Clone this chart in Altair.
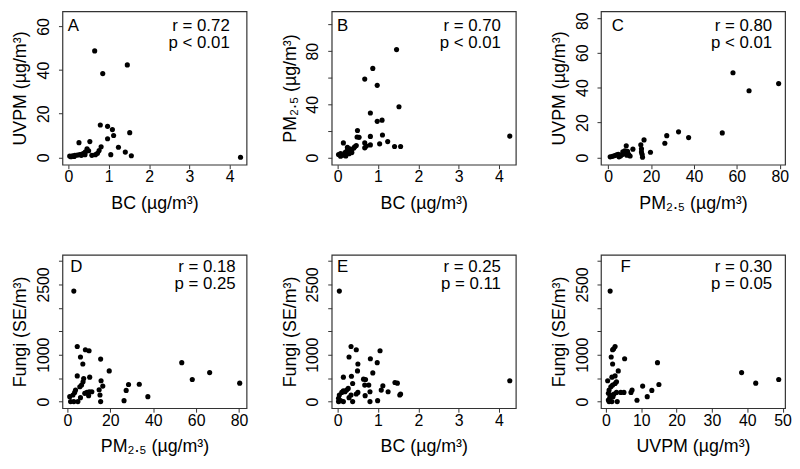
import altair as alt
import pandas as pd

# ---------------- data ----------------
# Panel A: BC vs UVPM
A_bc = [0.65, 1.46, 0.85, 0.79, 0.97, 1.09, 1.52, 1.12, 0.97, 0.26, 0.53, 0.81, 1.24, 1.41,
        1.05, 1.56, 4.27, 0.46, 0.50, 0.42, 0.76, 0.67, 0.72, 0.58,
        0.03, 0.10, 0.16, 0.22, 0.28, 0.34, 0.38, 0.06, 0.14, 0.32, 0.41]
A_uvpm = [48.8, 42.4, 38.4, 14.8, 14.2, 12.7, 11.3, 10.0, 8.5, 6.7, 7.2, 4.8, 4.6, 2.4,
          1.2, 0.7, 0.0, 3.9, 3.0, 2.5, 3.1, 1.2, 1.8, 0.9,
          0.6, 0.7, 0.9, 1.0, 1.2, 1.5, 1.8, 0.3, 0.4, 0.9, 1.2]

# Panel B: BC vs PM2.5
B_bc = [1.46, 0.87, 0.67, 0.98, 1.52, 0.81, 1.10, 0.98, 0.49, 1.11, 0.81, 0.53, 0.48, 1.24,
        0.14, 0.67, 1.04, 0.81, 0.71, 1.41, 1.56, 0.67, 4.27, 0.46, 0.42,
        0.02, 0.07, 0.12, 0.18, 0.22, 0.26, 0.30, 0.34, 0.24, 0.40, 0.20, 0.28, 0.07, 0.35]
B_pm = [81.2, 67.0, 59.0, 54.3, 38.2, 33.5, 28.1, 27.2, 20.3, 16.9, 15.9, 15.2, 15.4, 12.0,
        11.0, 11.0, 10.3, 9.5, 8.6, 8.3, 8.3, 7.3, 16.1, 9.0, 8.1,
        2.2, 2.9, 1.7, 3.7, 4.6, 5.6, 6.6, 5.4, 7.6, 7.1, 1.2, 2.9, 1.0, 3.7]

# Panel C: PM2.5 vs UVPM
C_pm = [58.2, 65.7, 79.5, 53.2, 32.8, 27.3, 37.5, 26.4, 16.7, 15.2, 15.5, 19.7, 11.5, 8.4,
        15.5, 15.8, 16.0,
        0.9, 2.0, 3.0, 3.9, 4.7, 5.7, 6.5, 7.2, 8.0, 8.7, 9.5, 10.2, 7.7, 9.0, 5.0, 6.8]
C_uvpm = [48.5, 38.2, 42.3, 14.1, 14.7, 12.5, 11.4, 8.2, 10.1, 7.3, 5.0, 3.0, 4.8, 6.7,
          3.2, 1.9, 0.2,
          0.4, 0.7, 1.1, 1.5, 1.9, 0.9, 1.7, 2.2, 2.8, 1.3, 1.9, 0.9, 3.9, 3.5, 0.4, 3.2]

# Panel D: PM2.5 vs Fungi
D_pm = [3.0, 4.6, 8.4, 10.1, 6.1, 7.2, 15.5, 19.5, 53.3, 58.2, 66.3, 80.3, 4.6, 10.4,
        15.7, 16.5, 28.5, 33.5, 27.4, 37.5, 26.4, 15.5, 14.8, 15.2,
        7.6, 7.3, 6.6, 5.8, 3.8, 3.4, 2.6, 1.1, 1.5, 3.0, 4.9, 8.1, 9.1, 10.2, 11.4, 9.9, 6.1]
D_fungi = [2359, 1176, 1106, 1085, 951, 803, 908, 655, 831, 472, 620, 394, 549, 521,
           444, 331, 366, 370, 239, 106, 21, 0, 254, 141,
           493, 423, 352, 317, 246, 197, 141, 106, 0, 0, 0, 176, 197, 211, 211, 127, 85]

# Panel E: BC vs Fungi
E_bc = [0.04, 0.33, 0.46, 1.05, 0.28, 0.81, 0.50, 0.98, 0.49, 0.87, 0.14, 0.34, 0.37, 0.64,
        0.69, 0.77, 0.67, 1.42, 1.48, 4.27, 1.12, 1.08, 1.25, 1.54, 1.56, 0.80, 0.68, 0.99,
        0.80, 0.50, 0.46, 0.26, 0.22, 0.18, 0.14, 0.10, 0.04, 0.02, 0.07, 0.14, 0.37, 0.28,
        0.33, 0.02]
E_fungi = [2359, 1176, 1106, 1085, 951, 915, 803, 831, 655, 613, 521, 542, 387, 479,
           472, 352, 352, 408, 394, 444, 338, 246, 211, 141, 162, 211, 127, 21,
           0, 197, 162, 282, 246, 211, 232, 197, 141, 70, 21, 0, 0, 85,
           141, 0]

# Panel F: UVPM vs Fungi
F_uvpm = [1.2, 2.6, 2.2, 1.9, 1.5, 5.3, 1.9, 14.6, 38.4, 42.4, 48.9, 3.5, 2.6, 1.7,
          0.5, 2.6, 3.0, 10.4, 15.0, 13.0, 11.7, 8.8, 3.2, 7.4, 7.1, 5.1, 4.2, 3.0, 2.3,
          0.9, 0.7, 1.4, 1.1, 0.7, 0.9, 1.7, 2.0, 1.4, 1.9]
F_fungi = [2359, 1176, 1127, 1106, 951, 915, 803, 831, 620, 394, 472, 655, 549, 521,
           444, 387, 423, 331, 366, 239, 106, 28, 0, 246, 197, 197, 197, 197, 162,
           246, 176, 141, 85, 35, 0, 0, 106, 317, 352]

# annotations
letters = ["A", "B", "C", "D", "E", "F"]
r_texts = ["r = 0.72", "r = 0.70", "r = 0.80", "r = 0.18", "r = 0.25", "r = 0.30"]
p_texts = ["p < 0.01", "p < 0.01", "p < 0.01", "p = 0.25", "p = 0.11", "p = 0.05"]

BC_T = "BC (µg/m³)"
PM_T = "PM₂.₅ (µg/m³)"
UV_T = "UVPM (µg/m³)"
FU_T = "Fungi (SE/m³)"

W, H = 186, 155
FONT = "Liberation Sans"


def panel(xs, ys, xdom, ydom, xticks, yticks, yshown, xtitle, ytitle, idx,
          letter_dx, r_dx, text_y, top_shift=None):
    df = pd.DataFrame({"x": xs, "y": ys})
    label_expr = "indexof(%s, datum.value) >= 0 ? datum.label : ''" % str(yshown)
    yaxis_kw = dict(values=yticks, labelExpr=label_expr, labelAngle=-90,
                    format="d", labelAlign="center", labelBaseline="bottom")
    if top_shift is not None:
        yaxis_kw["labelOffset"] = {"condition": {"test": "datum.value == %d" % top_shift[0],
                                                 "value": top_shift[1]}, "value": 0}
    pts = alt.Chart(df).mark_circle(size=27, opacity=1, color="black").encode(
        x=alt.X("x:Q", title=xtitle,
                scale=alt.Scale(domain=xdom, nice=False, zero=False),
                axis=alt.Axis(values=xticks, format="d")),
        y=alt.Y("y:Q", title=ytitle,
                scale=alt.Scale(domain=ydom, nice=False, zero=False),
                axis=alt.Axis(**yaxis_kw)),
    )
    t = pd.DataFrame({"l": [letters[idx]], "r": [r_texts[idx]], "p": [p_texts[idx]]})
    lt = alt.Chart(t).mark_text(align="center", baseline="middle", fontSize=17,
                                font=FONT, color="black").encode(
        x=alt.value(letter_dx), y=alt.value(text_y), text="l:N")
    rt = alt.Chart(t).mark_text(align="right", baseline="middle", fontSize=17,
                                font=FONT, color="black").encode(
        x=alt.value(W - r_dx), y=alt.value(text_y), text="r:N")
    pt = alt.Chart(t).mark_text(align="right", baseline="middle", fontSize=17,
                                font=FONT, color="black").encode(
        x=alt.value(W - r_dx), y=alt.value(text_y + 17.5), text="p:N")
    return alt.layer(pts, lt, rt, pt).properties(width=W, height=H)


fticks = [0, 500, 1000, 1500, 2000, 2500, 3000]
fdom = [-141, 3133]

pA = panel(A_bc, A_uvpm, [-0.15, 4.42], [-3.4, 67], [0, 1, 2, 3, 4], [0, 20, 40, 60],
           [0, 20, 40, 60], BC_T, UV_T, 0, 11, 17, 14.5)
pB = panel(B_bc, B_pm, [-0.15, 4.42], [-5.4, 110], [0, 1, 2, 3, 4], [0, 20, 40, 60, 80, 100],
           [0, 40, 80], BC_T, PM_T, 1, 11, 15, 14.5)
pC = panel(C_pm, C_uvpm, [-3.4, 82.5], [-4.1, 83.7], [0, 20, 40, 60, 80], [0, 20, 40, 60, 80],
           [0, 20, 40, 60, 80], PM_T, UV_T, 2, 17, 13, 14.5, top_shift=(80, 3))
pD = panel(D_pm, D_fungi, [-2.3, 83.5], fdom, [0, 20, 40, 60, 80], fticks,
           [0, 1000, 2500], PM_T, FU_T, 3, 14, 11, 12)
pE = panel(E_bc, E_fungi, [-0.15, 4.42], fdom, [0, 1, 2, 3, 4], fticks,
           [0, 1000, 2500], BC_T, FU_T, 4, 11, 15, 12)
pF = panel(F_uvpm, F_fungi, [-1.4, 50.7], fdom, [0, 10, 20, 30, 40, 50], fticks,
           [0, 1000, 2500], UV_T, FU_T, 5, 25, 13, 12)

chart = alt.concat(pA, pB, pC, pD, pE, pF, columns=3,
                   spacing={"row": 91, "column": 86}, bounds="flush").properties(
    padding={"left": 3, "top": 0, "right": 0, "bottom": 0},
    background="white",
).configure_view(
    stroke="#333333", strokeWidth=1.2
).configure_axis(
    domain=False, grid=False, ticks=True, tickColor="#333333", tickSize=4, tickWidth=1,
    labelFont=FONT, labelFontSize=16, labelColor="black",
    titleFont=FONT, titleFontSize=18, titleFontWeight="normal", titleColor="black",
).configure_axisY(
    labelPadding=7, titlePadding=6
).configure_axisX(
    labelPadding=0, titlePadding=10
)

chart.save("out.html", embed_options={"renderer": "svg", "actions": False})
